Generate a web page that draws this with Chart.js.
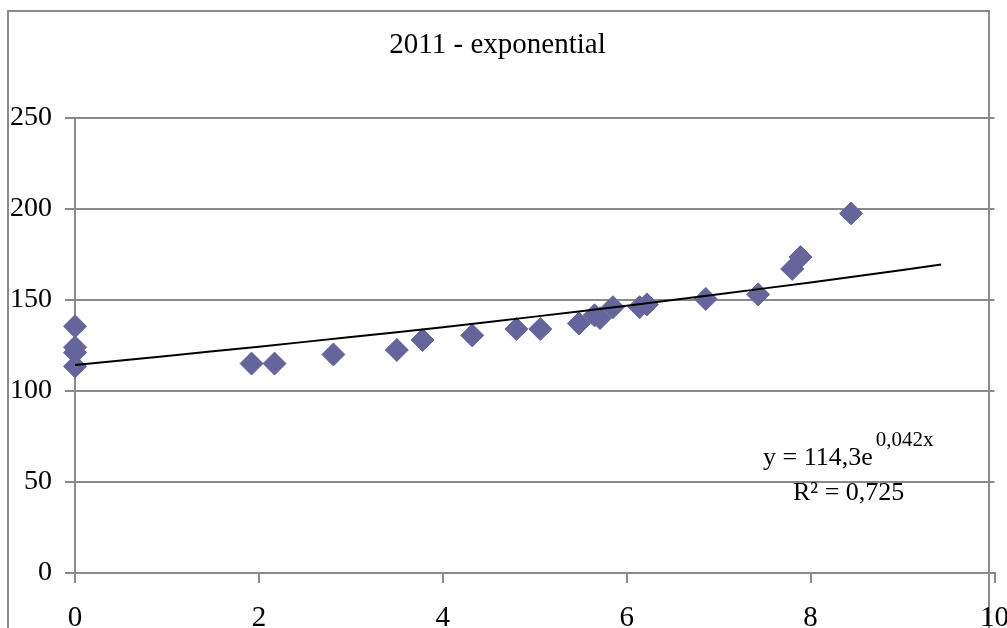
<!DOCTYPE html>
<html>
<head>
<meta charset="utf-8">
<script src="https://cdn.jsdelivr.net/npm/chart.js@4/dist/chart.umd.min.js"></script>
<style>
    html, body { margin: 0; padding: 0; background: #fff; }
    #wrap { width: 1007px; height: 628px; position: relative; }
</style>
</head>
<body>
<div id="wrap"><canvas id="chart"></canvas></div>
<script>
'use strict';

const pointX = [0, 0, 0, 0, 1.92, 2.17, 2.81, 3.50, 3.78, 4.32, 4.80, 5.06,
    5.48, 5.65, 5.71, 5.85, 6.14, 6.22, 6.86, 7.43, 7.80, 7.89, 8.44];
const pointY = [135.5, 124, 121, 113.5, 115, 115, 120, 122.5, 128, 130.5, 134, 134,
    137, 141.5, 140, 146, 146, 147.5, 150.5, 153, 167, 173.5, 197.5];

// линия тренда, точки
const trendX = [0, 1, 2, 3, 4, 5, 6, 7, 8, 9, 9.42];
const trendY = [114.3, 119.2, 124.3, 129.6, 135.0, 140.8, 146.8, 153.1, 159.6, 166.4, 169.4];

const xTicks = [0, 2, 4, 6, 8, 10];
const yTicks = [0, 50, 100, 150, 200, 250];

const titleText = '2011 - exponential';
const eqMain = 'y = 114,3e';
const eqPower = '0,042x';
const eqR2 = 'R² = 0,725';

const FONT = "'Liberation Serif', 'Times New Roman', serif";
const GRAY = '#8a8a8a';
const MARK = '#65659c';

// рамка диаграммы и подпись уравнения тренда
const decorPlugin = {
    id: 'decor',
    beforeDraw(chart) {
        const ctx = chart.ctx;
        ctx.save();
        ctx.strokeStyle = GRAY;
        ctx.lineWidth = 2;
        ctx.strokeRect(8, 11, 981, 640);
        ctx.restore();
    },
    afterDatasetsDraw(chart) {
        const ctx = chart.ctx;
        ctx.save();
        ctx.fillStyle = '#000';
        ctx.textBaseline = 'middle';
        ctx.font = '26px ' + FONT;
        ctx.fillText(eqMain, 763, 458);
        let w = ctx.measureText(eqMain).width;
        ctx.font = '21px ' + FONT;
        ctx.fillText(eqPower, 763 + w + 3, 440);
        ctx.font = '26px ' + FONT;
        ctx.fillText(eqR2, 793, 493);
        ctx.restore();
    },
};

const ctx = document.getElementById('chart').getContext('2d');
const chart = new Chart(ctx, {
    type: 'scatter',
    data: {
        datasets: [
            {
                label: 'data',
                data: pointX.map((x, i) => ({ x: x, y: pointY[i] })),
                pointStyle: 'rectRot',
                pointRadius: 11.5,
                backgroundColor: MARK,
                borderColor: MARK,
                borderWidth: 1,
                clip: false,
                order: 2,
            },
            {
                label: 'trend',
                type: 'line',
                data: trendX.map((x, i) => ({ x: x, y: trendY[i] })),
                borderColor: '#000',
                borderWidth: 2,
                pointRadius: 0,
                fill: false,
                tension: 0.3,
                clip: false,
                order: 1,
            },
        ],
    },
    options: {
        responsive: true,
        maintainAspectRatio: false,
        animation: false,
        events: [],
        layout: { padding: { top: 0, right: 12, bottom: 0, left: 0 } },
        plugins: {
            legend: { display: false },
            tooltip: { enabled: false },
            title: {
                display: true,
                text: titleText,
                color: '#000',
                font: { family: FONT, size: 29, weight: 'normal' },
                padding: { top: 28, bottom: 55 },
            },
        },
        scales: {
            x: {
                type: 'linear',
                min: 0,
                max: 10,
                afterBuildTicks(scale) {
                    scale.ticks = xTicks.map((v) => ({ value: v }));
                },
                afterFit(scale) {
                    scale.height = 55;
                    scale.paddingLeft = 0;
                    scale.paddingRight = 0;
                },
                grid: {
                    drawOnChartArea: false,
                    drawTicks: true,
                    tickLength: 10,
                    color: GRAY,
                    lineWidth: 2,
                },
                border: { color: GRAY, width: 2 },
                ticks: {
                    color: '#000',
                    padding: 18,
                    maxRotation: 0,
                    font: { family: FONT, size: 29 },
                },
            },
            y: {
                type: 'linear',
                min: 0,
                max: 250,
                afterBuildTicks(scale) {
                    scale.ticks = yTicks.map((v) => ({ value: v }));
                },
                afterFit(scale) {
                    scale.width = 75;
                    scale.paddingTop = 0;
                    scale.paddingBottom = 0;
                },
                grid: {
                    drawTicks: true,
                    tickLength: 10,
                    color: GRAY,
                    lineWidth: 2,
                },
                border: { color: GRAY, width: 2 },
                ticks: {
                    color: '#000',
                    padding: 13,
                    font: { family: FONT, size: 28 },
                },
            },
        },
    },
    plugins: [decorPlugin],
});
</script>
</body>
</html>
